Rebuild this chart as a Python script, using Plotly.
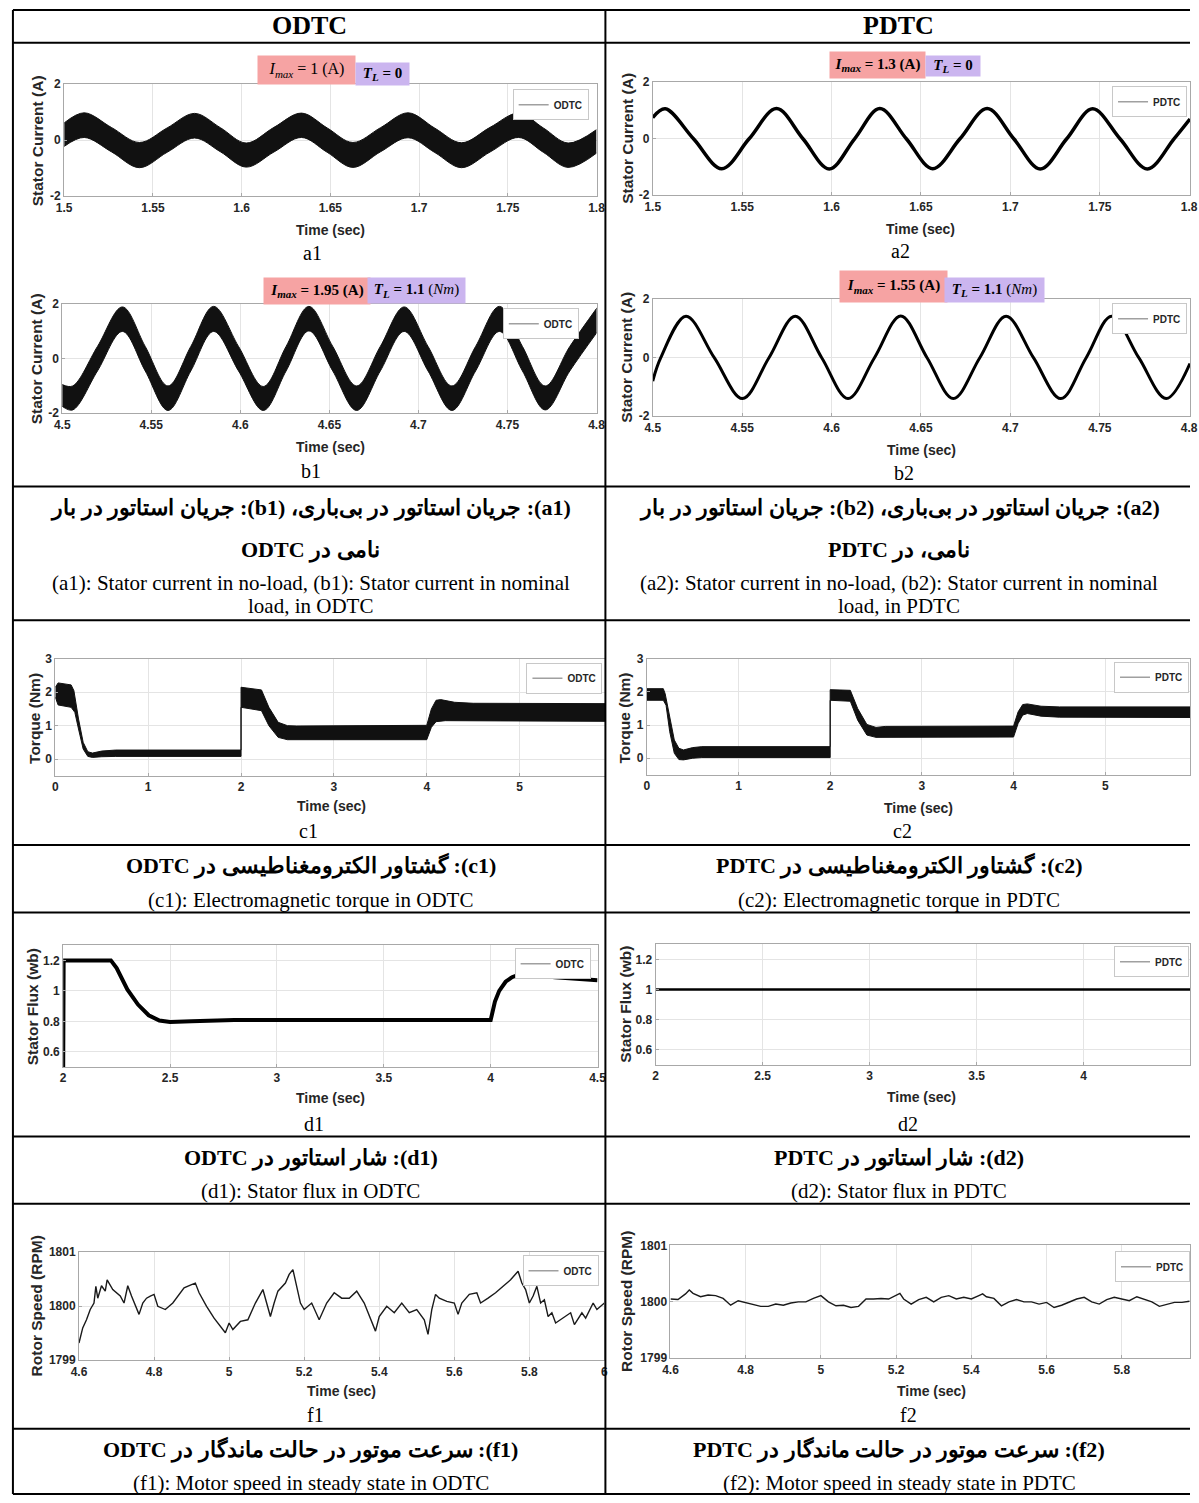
import plotly.graph_objects as go

W, H = 1199, 1503


def PX(x):
    return x / W


def PY(y):
    return 1 - y / H


# ---------------- data ----------------
# a1: ODTC stator current, no load (ripple band envelopes)
a1_t = [1.5000, 1.5113, 1.5268, 1.5424, 1.5580, 1.5735, 1.5880, 1.6026, 1.6182, 1.6337, 1.6482,
        1.6627, 1.6783, 1.6938, 1.7089, 1.7239, 1.7400, 1.7561, 1.7700, 1.7840, 1.8000]
a1_hi = [0.62, 0.98, 0.45, -0.08, 0.44, 0.96, 0.45, -0.10, 0.46, 0.97, 0.44,
         -0.08, 0.45, 0.98, 0.43, -0.09, 0.46, 0.97, 0.44, -0.10, 0.38]
a1_lo = [-0.22, 0.10, -0.42, -0.98, -0.43, 0.08, -0.41, -0.96, -0.42, 0.10, -0.43,
         -0.97, -0.41, 0.09, -0.44, -0.98, -0.42, 0.10, -0.43, -0.97, -0.46]

# a2: PDTC stator current, no load
a2_t = [1.5000, 1.5070, 1.5228, 1.5386, 1.5539, 1.5692, 1.5840, 1.5987, 1.6129, 1.6270, 1.6418,
        1.6566, 1.6718, 1.6870, 1.7019, 1.7167, 1.7315, 1.7460, 1.7613, 1.7766, 1.7915, 1.8004]
a2_v = [0.75, 1.06, 0.00, -1.06, 0.00, 1.07, 0.00, -1.07, 0.00, 1.07, 0.00,
        -1.06, 0.00, 1.07, 0.00, -1.07, 0.00, 1.06, 0.00, -1.07, 0.00, 0.70]

# b1: ODTC stator current, nominal load (ripple band envelopes)
b1_t = [4.5000, 4.5059, 4.5198, 4.5338, 4.5466, 4.5594, 4.5722, 4.5850, 4.5990, 4.6129, 4.6257, 4.6385,
        4.6519, 4.6653, 4.6786, 4.6920, 4.7054, 4.7188, 4.7321, 4.7455, 4.7584, 4.7712, 4.7850, 4.8004]
b1_hi = [-0.95, -1.00, 0.45, 1.90, 0.45, -1.00, 0.45, 1.92, 0.45, -1.02, 0.45, 1.92,
         0.45, -1.00, 0.45, 1.90, 0.45, -1.00, 0.45, 1.92, 0.45, -1.00, 0.45, 1.88]
b1_lo = [-1.75, -1.88, -0.45, 1.00, -0.45, -1.90, -0.45, 1.00, -0.45, -1.90, -0.45, 1.02,
         -0.45, -1.90, -0.45, 1.00, -0.45, -1.90, -0.45, 1.00, -0.45, -1.88, -0.45, 0.98]

# b2: PDTC stator current, nominal load
b2_t = [4.5000, 4.5045, 4.5186, 4.5344, 4.5502, 4.5650, 4.5797, 4.5945, 4.6092, 4.6240, 4.6387,
        4.6534, 4.6681, 4.6829, 4.6976, 4.7129, 4.7282, 4.7424, 4.7566, 4.7718, 4.7871, 4.8004]
b2_v = [-0.80, 0.00, 1.42, 0.00, -1.40, 0.00, 1.42, 0.00, -1.40, 0.00, 1.43,
        0.00, -1.40, 0.00, 1.42, 0.00, -1.40, 0.00, 1.42, 0.00, -1.40, -0.20]

# c1: ODTC torque band
c1_t_hi = [0.0, 0.03, 0.17, 0.20, 0.25, 0.30, 0.35, 0.40, 0.50, 0.65, 2.0, 2.0, 2.22, 2.30, 2.40,
           2.50, 2.60, 4.00, 4.05, 4.10, 4.15, 4.30, 4.50, 5.00, 5.93]
c1_hi = [2.15, 2.28, 2.22, 2.05, 1.20, 0.50, 0.22, 0.18, 0.24, 0.27, 0.27, 2.15, 2.07, 1.55, 1.10,
         1.00, 0.99, 1.01, 1.50, 1.76, 1.78, 1.70, 1.67, 1.66, 1.66]
c1_t_lo = [0.0, 0.03, 0.17, 0.21, 0.25, 0.30, 0.35, 0.40, 0.50, 0.65, 2.0, 2.0, 2.22, 2.30, 2.40,
           2.50, 4.00, 4.05, 4.10, 4.20, 5.93]
c1_lo = [1.85, 1.62, 1.55, 1.40, 0.90, 0.30, 0.08, 0.05, 0.07, 0.08, 0.08, 1.55, 1.45, 1.00, 0.65,
         0.58, 0.58, 0.95, 1.12, 1.15, 1.13]

# c2: PDTC torque band
c2_t_hi = [0.0, 0.18, 0.20, 0.25, 0.30, 0.35, 0.40, 0.50, 0.60, 2.0, 2.0, 2.22, 2.30, 2.40, 2.50,
           2.60, 4.00, 4.05, 4.10, 4.15, 4.30, 4.50, 5.93]
c2_hi = [2.10, 2.10, 1.95, 1.20, 0.55, 0.30, 0.25, 0.32, 0.35, 0.35, 2.07, 2.05, 1.50, 1.02, 0.93,
         0.96, 0.97, 1.40, 1.62, 1.64, 1.57, 1.55, 1.55]
c2_t_lo = [0.0, 0.18, 0.21, 0.25, 0.30, 0.35, 0.40, 0.50, 0.60, 2.0, 2.0, 2.22, 2.30, 2.40, 2.50,
           4.00, 4.05, 4.10, 4.15, 4.30, 4.50, 5.93]
c2_lo = [1.75, 1.75, 1.60, 0.80, 0.15, -0.04, -0.05, 0.00, 0.02, 0.02, 1.75, 1.72, 1.15, 0.70, 0.63,
         0.64, 1.05, 1.30, 1.35, 1.27, 1.24, 1.23]

# d1 / d2: stator flux
d1_t = [2.0, 2.002, 2.10, 2.223, 2.25, 2.30, 2.35, 2.40, 2.45, 2.50, 2.60, 2.80, 3.50, 4.00, 4.02,
        4.04, 4.07, 4.10, 4.14, 4.20, 4.30, 4.40, 4.50]
d1_v = [0.50, 1.20, 1.20, 1.20, 1.15, 1.01, 0.91, 0.84, 0.805, 0.795, 0.80, 0.808, 0.808, 0.808, 0.93,
        1.00, 1.06, 1.09, 1.11, 1.105, 1.09, 1.078, 1.07]
d2_t = [2.0, 2.5, 3.0, 3.5, 4.0, 4.5]
d2_v = [1.0, 1.0, 1.0, 1.0, 1.0, 1.0]

# f1 / f2: rotor speed
f1_t = [4.600, 4.610, 4.620, 4.630, 4.640, 4.645, 4.650, 4.660, 4.670, 4.675, 4.690, 4.710, 4.720,
        4.730, 4.740, 4.750, 4.760, 4.770, 4.780, 4.790, 4.800, 4.810, 4.830, 4.850, 4.860, 4.880,
        4.900, 4.910, 4.920, 4.940, 4.960, 4.980, 4.990, 5.000, 5.010, 5.030, 5.050, 5.070, 5.090,
        5.100, 5.110, 5.120, 5.130, 5.150, 5.160, 5.170, 5.180, 5.190, 5.200, 5.220, 5.240, 5.260,
        5.280, 5.300, 5.320, 5.340, 5.360, 5.380, 5.390, 5.400, 5.420, 5.440, 5.460, 5.480, 5.500,
        5.520, 5.530, 5.540, 5.550, 5.560, 5.580, 5.600, 5.610, 5.620, 5.640, 5.660, 5.670, 5.690,
        5.710, 5.730, 5.750, 5.770, 5.780, 5.790, 5.800, 5.810, 5.820, 5.830, 5.840, 5.850, 5.860,
        5.870, 5.890, 5.910, 5.920, 5.940, 5.950, 5.970, 5.980, 6.000]
f1_v = [1799.32, 1799.60, 1799.75, 1799.94, 1800.06, 1800.37, 1800.15, 1800.38, 1800.28, 1800.49,
        1800.31, 1800.19, 1800.06, 1800.38, 1800.19, 1800.00, 1799.85, 1800.06, 1800.15, 1800.19,
        1800.22, 1800.00, 1799.94, 1800.06, 1800.15, 1800.34, 1800.40, 1800.43, 1800.25, 1800.00,
        1799.78, 1799.60, 1799.51, 1799.69, 1799.57, 1799.72, 1799.75, 1800.06, 1800.31, 1800.06,
        1799.81, 1800.06, 1800.28, 1800.43, 1800.59, 1800.68, 1800.34, 1800.06, 1799.94, 1800.06,
        1799.75, 1800.06, 1800.25, 1800.15, 1800.15, 1800.28, 1800.06, 1799.69, 1799.54, 1799.81,
        1800.00, 1799.88, 1800.06, 1799.88, 1799.94, 1799.75, 1799.48, 1799.94, 1800.22, 1800.15,
        1800.09, 1800.06, 1799.85, 1800.06, 1800.22, 1800.25, 1800.06, 1800.15, 1800.25, 1800.37,
        1800.49, 1800.65, 1800.43, 1800.31, 1800.06, 1800.19, 1800.37, 1800.06, 1800.12, 1799.81,
        1799.88, 1799.69, 1799.78, 1799.88, 1799.66, 1799.88, 1799.78, 1800.06, 1799.94, 1800.06]
f2_t = [4.60, 4.62, 4.64, 4.65, 4.66, 4.68, 4.70, 4.72, 4.74, 4.76, 4.78, 4.80, 4.82, 4.84, 4.86,
        4.88, 4.90, 4.92, 4.94, 4.96, 4.98, 5.00, 5.02, 5.04, 5.06, 5.08, 5.10, 5.12, 5.14, 5.16,
        5.18, 5.20, 5.21, 5.22, 5.24, 5.26, 5.28, 5.30, 5.32, 5.34, 5.36, 5.38, 5.40, 5.42, 5.43,
        5.44, 5.46, 5.48, 5.50, 5.52, 5.54, 5.56, 5.58, 5.60, 5.62, 5.64, 5.66, 5.68, 5.70, 5.72,
        5.74, 5.76, 5.78, 5.80, 5.82, 5.84, 5.86, 5.88, 5.90, 5.92, 5.94, 5.96, 5.98]
f2_v = [1800.05, 1800.04, 1800.14, 1800.21, 1800.15, 1800.09, 1800.12, 1800.11, 1800.06, 1799.94,
        1800.02, 1799.99, 1799.96, 1799.92, 1799.92, 1799.96, 1799.94, 1799.98, 1800.00, 1800.00,
        1800.06, 1800.11, 1800.00, 1799.93, 1799.94, 1799.90, 1799.92, 1800.05, 1800.05, 1800.06,
        1800.05, 1800.11, 1800.15, 1800.05, 1799.96, 1800.04, 1800.08, 1800.00, 1800.08, 1800.11,
        1800.05, 1800.08, 1800.05, 1800.11, 1800.14, 1800.09, 1800.06, 1799.93, 1800.00, 1800.04,
        1800.00, 1800.00, 1799.96, 1799.99, 1799.90, 1799.94, 1800.00, 1800.05, 1800.08, 1800.00,
        1799.96, 1800.04, 1800.08, 1800.05, 1800.02, 1800.09, 1800.05, 1800.00, 1799.92, 1799.96,
        1799.99, 1799.99, 1800.01]

# tick labels
a_xt = [1.5, 1.55, 1.6, 1.65, 1.7, 1.75, 1.8]
a_xl = ['1.5', '1.55', '1.6', '1.65', '1.7', '1.75', '1.8']
b_xt = [4.5, 4.55, 4.6, 4.65, 4.7, 4.75, 4.8]
b_xl = ['4.5', '4.55', '4.6', '4.65', '4.7', '4.75', '4.8']
ab_yt = [-2, 0, 2]
ab_yl = ['-2', '0', '2']
c_xt = [0, 1, 2, 3, 4, 5, 6]
c_xl = ['0', '1', '2', '3', '4', '5', '6']
c_yt = [0, 1, 2, 3]
c_yl = ['0', '1', '2', '3']
d_xt = [2, 2.5, 3, 3.5, 4, 4.5]
d_xl = ['2', '2.5', '3', '3.5', '4', '4.5']
d_yt = [0.6, 0.8, 1.0, 1.2]
d_yl = ['0.6', '0.8', '1', '1.2']
f_xt = [4.6, 4.8, 5.0, 5.2, 5.4, 5.6, 5.8, 6.0]
f_xl = ['4.6', '4.8', '5', '5.2', '5.4', '5.6', '5.8', '6']
f_yt = [1799, 1800, 1801]
f_yl = ['1799', '1800', '1801']

# texts
header = ['ODTC', 'PDTC']
legend_names = ['ODTC', 'PDTC']
ytitles = ['Stator Current (A)', 'Stator Current (A)', 'Torque (Nm)', 'Stator Flux (wb)', 'Rotor Speed (RPM)']
xtitle = 'Time (sec)'
fa_ab = [['(a1): جریان استاتور در بی‌باری، (b1): جریان استاتور در بار', 'نامی در ODTC'],
         ['(a2): جریان استاتور در بی‌باری، (b2): جریان استاتور در بار', 'نامی، در PDTC']]
en_ab = [['(a1): Stator current in no-load, (b1): Stator current in nominal', 'load, in ODTC'],
         ['(a2): Stator current in no-load, (b2): Stator current in nominal', 'load, in PDTC']]
fa_c = ['(c1): گشتاور الکترومغناطیسی در ODTC', '(c2): گشتاور الکترومغناطیسی در PDTC']
en_c = ['(c1): Electromagnetic torque in ODTC', '(c2): Electromagnetic torque in PDTC']
fa_d = ['(d1): شار استاتور در ODTC', '(d2): شار استاتور در PDTC']
en_d = ['(d1): Stator flux in ODTC', '(d2): Stator flux in PDTC']
fa_f = ['(f1): سرعت موتور در حالت ماندگار در ODTC', '(f2): سرعت موتور در حالت ماندگار در PDTC']
en_f = ['(f1): Motor speed in steady state in ODTC', '(f2): Motor speed in steady state in PDTC']

# ---------------- figure ----------------
fig = go.Figure()

TICKFONT = dict(family='Liberation Sans', size=12, color='#262626', weight='bold')
AXC = '#a8a8a8'
GRID = '#e4e4e4'


def add_axes(i, x0, x1, yt, yb, xr, yr, xtv, xtt, ytv, ytt):
    s = '' if i == 1 else str(i)
    xin = [(v, t) for v, t in zip(xtv, xtt) if xr[0] - 1e-9 <= v <= xr[1] + 1e-9]
    yin = [(v, t) for v, t in zip(ytv, ytt) if yr[0] - 1e-9 <= v <= yr[1] + 1e-9]
    common = dict(showgrid=True, gridcolor=GRID, gridwidth=1, showline=True, linecolor=AXC,
                  linewidth=1, mirror=True, ticks='inside', ticklen=3, tickcolor=AXC,
                  tickfont=TICKFONT, zeroline=False, fixedrange=True)
    fig.update_layout(**{
        'xaxis' + s: dict(domain=[max(0, PX(x0)), min(1, PX(x1))], range=xr, anchor='y' + s,
                          tickvals=[v for v, _ in xin], ticktext=[t for _, t in xin], **common),
        'yaxis' + s: dict(domain=[PY(yb), PY(yt)], range=yr, anchor='x' + s,
                          tickvals=[v for v, _ in yin], ticktext=[t for _, t in yin], **common),
    })
    return ('x' + s, 'y' + s)


RIGHT = 1199

# panel axes (pixel boxes of the reference)
ax = {}
ax['a1'] = add_axes(1, 57, 597, 78, 191, [1.5, 1.8], [-2, 2], a_xt, a_xl, ab_yt, ab_yl)
ax['a2'] = add_axes(2, 654, RIGHT, 76, 190, [1.5, 1.5 + (RIGHT - 654) / 1814], [-2, 2], a_xt, a_xl, ab_yt, ab_yl)
ax['b1'] = add_axes(3, 55, 597, 300, 410, [4.5, 4.8], [-2, 2], b_xt, b_xl, ab_yt, ab_yl)
ax['b2'] = add_axes(4, 654, RIGHT, 295, 413, [4.5, 4.5 + (RIGHT - 654) / 1814], [-2, 2], b_xt, b_xl, ab_yt, ab_yl)
ax['c1'] = add_axes(5, 48, 606, 658, 776, [0, 5.924], [-0.5, 3], c_xt, c_xl, c_yt, c_yl)
ax['c2'] = add_axes(6, 648, RIGHT, 658, 775, [0, (RIGHT - 648) / 93.0], [-0.5, 3], c_xt, c_xl, c_yt, c_yl)
ax['d1'] = add_axes(7, 56, 598, 947, 1070, [2, 4.5], [0.5, 1.3], d_xt, d_xl, d_yt, d_yl)
ax['d2'] = add_axes(8, 657, RIGHT, 946, 1068, [2, 2 + (RIGHT - 657) / 217.0], [0.5, 1.3], d_xt, d_xl, d_yt, d_yl)
ax['f1'] = add_axes(9, 72, 605, 1257, 1366, [4.6, 6.0], [1799, 1801], f_xt, f_xl, f_yt, f_yl)
ax['f2'] = add_axes(10, 672, RIGHT, 1250, 1364, [4.6, 4.6 + (RIGHT - 672) / 381.5], [1799, 1801], f_xt, f_xl, f_yt, f_yl)

BAND = '#111111'


def band(key, tlo, lo, thi, hi, shape):
    xa, ya = ax[key]
    fig.add_trace(go.Scatter(x=tlo, y=lo, mode='lines', line=dict(color=BAND, width=1, shape=shape),
                             xaxis=xa, yaxis=ya, showlegend=False, hoverinfo='skip'))
    fig.add_trace(go.Scatter(x=thi, y=hi, mode='lines', line=dict(color=BAND, width=1, shape=shape),
                             fill='tonexty', fillcolor=BAND, xaxis=xa, yaxis=ya,
                             showlegend=False, hoverinfo='skip'))


def line(key, t, v, width, shape='linear', color='#000000'):
    xa, ya = ax[key]
    fig.add_trace(go.Scatter(x=t, y=v, mode='lines', line=dict(color=color, width=width, shape=shape),
                             xaxis=xa, yaxis=ya, showlegend=False, hoverinfo='skip'))


band('a1', a1_t, a1_lo, a1_t, a1_hi, 'spline')
line('a2', a2_t, a2_v, 3.5, 'spline')
band('b1', b1_t, b1_lo, b1_t, b1_hi, 'spline')
line('b2', b2_t, b2_v, 3, 'spline')
band('c1', c1_t_lo, c1_lo, c1_t_hi, c1_hi, 'linear')
band('c2', c2_t_lo, c2_lo, c2_t_hi, c2_hi, 'linear')
line('d1', d1_t, d1_v, 4)
line('d2', d2_t, d2_v, 2.5)
line('f1', f1_t, f1_v, 1.4, 'linear', '#1a1a1a')
line('f2', f2_t, f2_v, 1.4, 'linear', '#1a1a1a')

# legends (one per panel)
legend_pos = {  # right edge px, top px (reference)
    'a1': (589, 83), 'a2': (1196, 80), 'b1': (579, 304), 'b2': (1196, 299),
    'c1': (603, 662), 'c2': (1198, 661), 'd1': (591, 950), 'd2': (1198, 948),
    'f1': (599, 1260), 'f2': (1199, 1256),
}
for k, key in enumerate(['a1', 'a2', 'b1', 'b2', 'c1', 'c2', 'd1', 'd2', 'f1', 'f2']):
    lname = 'legend' if k == 0 else 'legend%d' % (k + 1)
    xa, ya = ax[key]
    fig.add_trace(go.Scatter(x=[None], y=[None], mode='lines', name=legend_names[k % 2],
                             line=dict(color='#a0a0a0', width=1.5), xaxis=xa, yaxis=ya,
                             legend=lname, showlegend=True))
    xr, yt = legend_pos[key]
    fig.update_layout(**{lname: dict(x=PX(xr), y=PY(yt), xanchor='right', yanchor='top',
                                      bgcolor='white', bordercolor='#c8c8c8', borderwidth=1,
                                      font=dict(family='Liberation Sans', size=10, color='#262626',
                                                weight='bold'),
                                      itemwidth=30, tracegroupgap=0)})


def ann(x, y, text, size, family='Liberation Serif', bold=False, angle=0, color='#000000', **kw):
    fig.add_annotation(x=PX(x), y=PY(y), xref='paper', yref='paper', text=text, showarrow=False,
                       font=dict(family=family, size=size, color=color,
                                 weight='bold' if bold else 'normal'),
                       textangle=angle, xanchor='center', yanchor='middle', **kw)


# header
ann(306, 19, header[0], 26, bold=True)
ann(903, 19, header[1], 26, bold=True)

# axis titles and panel labels
ytitle_pos = {'a1': (30, 135), 'a2': (629, 133), 'b1': (29, 355), 'b2': (628, 354),
              'c1': (27, 718), 'c2': (625, 718), 'd1': (25, 1009), 'd2': (626, 1007),
              'f1': (29, 1311), 'f2': (628, 1307)}
ytitle_of = {'a1': 0, 'a2': 0, 'b1': 1, 'b2': 1, 'c1': 2, 'c2': 2, 'd1': 3, 'd2': 3, 'f1': 4, 'f2': 4}
xtitle_pos = {'a1': (327, 225), 'a2': (926, 224), 'b1': (327, 444), 'b2': (927, 447),
              'c1': (328, 807), 'c2': (924, 809), 'd1': (327, 1101), 'd2': (927, 1100),
              'f1': (338, 1397), 'f2': (937, 1397)}
label_pos = {'a1': (309, 248), 'a2': (905, 246), 'b1': (307, 468), 'b2': (909, 470),
             'c1': (305, 832), 'c2': (907, 832), 'd1': (310, 1127), 'd2': (913, 1127),
             'f1': (312, 1421), 'f2': (913, 1421)}
for key in ytitle_pos:
    x, y = ytitle_pos[key]
    ann(x, y, ytitles[ytitle_of[key]], 15.5, family='Liberation Sans', bold=True, angle=-90, color='#262626')
    x, y = xtitle_pos[key]
    ann(x, y, xtitle, 14, family='Liberation Sans', bold=True, color='#262626')
    x, y = label_pos[key]
    ann(x, y, key, 20)

# highlighted condition boxes
RED = '#F6A3A3'
LAV = '#CBB5EF'


def sub(t):
    return '<sub><span style="font-size:11px"><i>%s</i></span></sub>' % t


boxes = [
    (303, 64, 97, 28, RED, 16, '<i>I</i>' + sub('max') + ' = 1 (A)'),
    (380, 68, 53, 22, LAV, 15, '<b><i>T</i>' + sub('L') + ' = 0</b>'),
    (882, 59, 95, 26, RED, 15, '<b><i>I</i>' + sub('max') + ' = 1.3 (A)</b>'),
    (959, 60, 54, 20, LAV, 15, '<b><i>T</i>' + sub('L') + ' = 0</b>'),
    (313, 287, 106, 26, RED, 15, '<b><i>I</i>' + sub('max') + ' = 1.95 (A)</b>'),
    (414, 286, 97, 25, LAV, 15, '<b><i>T</i>' + sub('L') + ' = 1.1 </b>(<i>Nm</i>)'),
    (898, 282, 107, 31, RED, 15, '<b><i>I</i>' + sub('max') + ' = 1.55 (A)</b>'),
    (1001, 286, 99, 24, LAV, 15, '<b><i>T</i>' + sub('L') + ' = 1.1 </b>(<i>Nm</i>)'),
]
for x, y, w, h, col, fs, txt in boxes:
    ann(x, y, txt, fs, width=w, height=h, bgcolor=col, borderpad=0, align='center', valign='middle')

# captions
RLE, PDF = '\u202B', '\u202C'


def fa(t):
    return RLE + t + PDF


FA_SIZE = 22
EN_SIZE = 21
cols = [307, 904]
for c in range(2):
    x = cols[c]
    ann(x, 506, fa(fa_ab[c][0]), FA_SIZE, bold=True)
    ann(x, 548, fa(fa_ab[c][1]), FA_SIZE, bold=True)
    ann(x, 581, en_ab[c][0], EN_SIZE)
    ann(x, 605, en_ab[c][1], EN_SIZE)
    ann(x, 867, fa(fa_c[c]), FA_SIZE, bold=True)
    ann(x, 901, en_c[c], EN_SIZE)
    ann(x, 1162, fa(fa_d[c]), FA_SIZE, bold=True)
    ann(x, 1195, en_d[c], EN_SIZE)
    ann(x, 1456, fa(fa_f[c]), FA_SIZE, bold=True)
    ann(x, 1490, en_f[c], EN_SIZE)

# table grid lines
shapes = []
for y in [3, 36, 484, 619, 846, 914, 1140, 1208, 1435, 1501]:
    shapes.append(dict(type='line', xref='paper', yref='paper', x0=PX(5), x1=1, y0=PY(y), y1=PY(y),
                       line=dict(color='black', width=2)))
for x in [5, 606]:
    shapes.append(dict(type='line', xref='paper', yref='paper', x0=PX(x), x1=PX(x), y0=PY(1501),
                       y1=PY(3), line=dict(color='black', width=2)))
fig.update_layout(shapes=shapes)

fig.update_layout(width=W, height=H, margin=dict(l=0, r=0, t=0, b=0), paper_bgcolor='white',
                  plot_bgcolor='white', hovermode=False)

fig.write_html('out.html', config={'displayModeBar': False},
               post_script="document.body.style.margin='0';")
